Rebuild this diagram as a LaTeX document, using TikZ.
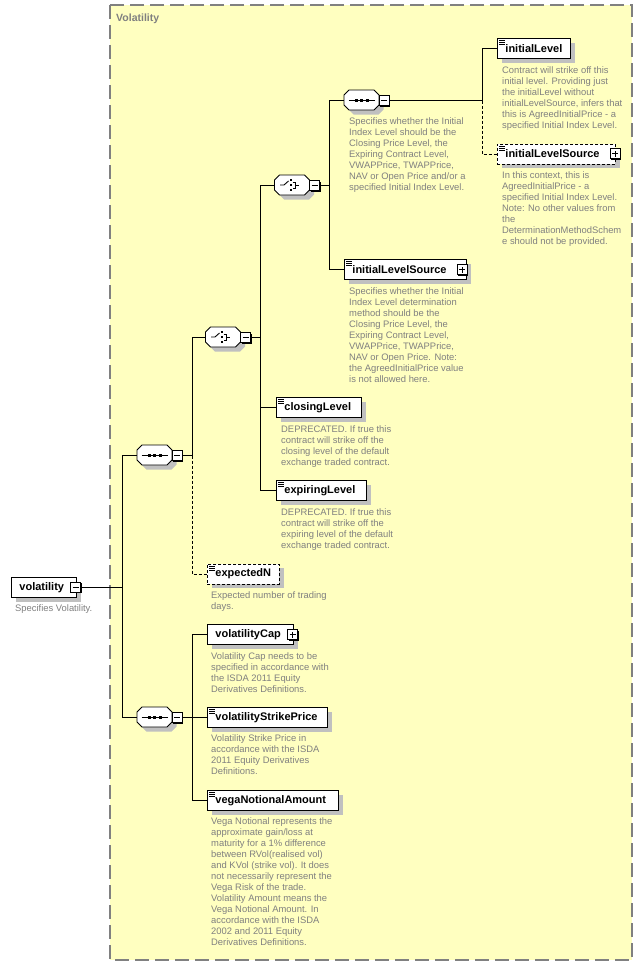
\documentclass[tikz,border=0pt]{standalone}
\usepackage{fontspec}
\setmainfont{Liberation Sans}
\usetikzlibrary{shadows}
\definecolor{bgyellow}{RGB}{255,255,192}
\definecolor{framegray}{RGB}{128,128,128}
\definecolor{descgray}{RGB}{128,128,128}
\definecolor{shadowgray}{RGB}{192,192,192}
\tikzset{
  elem/.style={draw=black, fill=white, line width=0.9pt, anchor=north west, minimum height=20pt,
    inner xsep=0pt, inner ysep=0pt, align=left, font=\fontsize{11}{13}\selectfont\bfseries,
    general shadow={fill=shadowgray, shadow xshift=4.5pt, shadow yshift=-4.5pt}},
  optelem/.style={elem, dash pattern=on 3pt off 2pt},
  desc/.style={anchor=north west, inner sep=0pt, align=left, text=descgray, font=\fontsize{9.4}{11}\selectfont},
  pmbox/.style={draw=black, fill=white, minimum size=10pt, inner sep=0pt, line width=0.8pt,
    general shadow={fill=black, shadow xshift=1pt, shadow yshift=-1pt}},
  comp/.style={minimum width=35pt, minimum height=20pt, inner sep=0pt},
  conn/.style={line width=0.9pt},
  optconn/.style={line width=0.9pt, dash pattern=on 3pt off 2pt},
  hdr/.style={anchor=west, inner sep=0pt, text=framegray, font=\fontsize{10.5}{12}\selectfont\bfseries},
}
\newcommand\octpath{(-17.5,-5) -- (-12.5,-10) -- (12.5,-10) -- (17.5,-5) -- (17.5,5) -- (12.5,10) -- (-12.5,10) -- (-17.5,5) -- cycle}
\newcommand\octshape[2]{%
  \fill[shadowgray, shift={(#1+4.5,#2+4.5)}] \octpath;
  \filldraw[fill=white, draw=black, line width=0.9pt, shift={(#1,#2)}] \octpath;}
\newcommand\seqsym[2]{%
  \begin{scope}[shift={(#1,#2)}]
    \draw[line width=0.9pt] (-13,0) -- (13,0);
    \fill (-7,-1.5) rectangle (-4,1.5);
    \fill (-1.5,-1.5) rectangle (1.5,1.5);
    \fill (4,-1.5) rectangle (7,1.5);
  \end{scope}}
\newcommand\choicesym[2]{%
  \begin{scope}[shift={(#1,#2)}]
    \draw[line width=0.9pt] (-12,0) -- (-8,0) -- (-3.5,-4);
    \fill (-2.5,-6) rectangle (-0.5,-4);
    \fill (-2.5,-1) rectangle (-0.5,1);
    \fill (-2.5,4) rectangle (-0.5,6);
    \draw[line width=0.9pt] (0.5,-3) -- (3,-3) -- (3,3) -- (0.5,3);
    \draw[line width=0.9pt] (3,0) -- (7,0);
  \end{scope}}
\newcommand\docicon[1]{%
  \draw[line width=0.6pt] ([shift={(2,2.5)}]#1.north west) -- ++(5.5,0);
  \draw[line width=0.6pt] ([shift={(2,4.5)}]#1.north west) -- ++(5.5,0);
  \draw[line width=0.6pt] ([shift={(2,6.5)}]#1.north west) -- ++(5.5,0);}
\newcommand\minussign[1]{\draw[line width=0.8pt] ([xshift=-3pt]#1.center) -- ([xshift=3pt]#1.center);}
\newcommand\plussign[1]{\minussign{#1}\draw[line width=0.8pt] ([yshift=-3pt]#1.center) -- ([yshift=3pt]#1.center);}

\begin{document}
\begin{tikzpicture}[x=1pt, y=-1pt]
\useasboundingbox (0,0) rectangle (643,966);
\fill[white] (0,0) rectangle (643,966);
% outer frame
\draw[fill=bgyellow, draw=framegray, line width=1.2pt, dash pattern=on 14pt off 6pt] (110,5) rectangle (632,960);
\node[hdr] (header) at (116,19) {Volatility};

% bus coordinates
\coordinate (bx1) at (122,0);
\coordinate (bx2) at (192,0);
\coordinate (bx3) at (260,0);
\coordinate (bx4) at (329,0);
\coordinate (bx5) at (482,0);

% root
\node[elem, text width=65pt] (root) at (11,577) {\hspace*{8pt}volatility};
\node[pmbox] (rootm) at (75.5,587) {}; \minussign{rootm}
\node[desc] (rootd) at (15,604) {Specifies Volatility.};

% compositors
\octshape{154.5}{455} \seqsym{154.5}{455} \node[comp] (s1) at (154.5,455) {};
\node[pmbox] (s1m) at (177,455.5) {}; \minussign{s1m}

\octshape{223}{337} \choicesym{223}{337} \node[comp] (c1) at (223,337) {};
\node[pmbox] (c1m) at (245.5,337.5) {}; \minussign{c1m}

\octshape{292}{185} \choicesym{292}{185} \node[comp] (c2) at (292,185) {};
\node[pmbox] (c2m) at (314.5,185.5) {}; \minussign{c2m}

\octshape{361.5}{100} \seqsym{361.5}{100} \node[comp] (s2) at (361.5,100) {};
\node[pmbox] (s2m) at (384,100.5) {}; \minussign{s2m}

\octshape{154.5}{717} \seqsym{154.5}{717} \node[comp] (s3) at (154.5,717) {};
\node[pmbox] (s3m) at (177,717.5) {}; \minussign{s3m}

\node[desc] (s2d) at (349,117.5) {Specifies whether the Initial\\Index Level should be the\\Closing Price Level, the\\Expiring Contract Level,\\VWAPPrice, TWAPPrice,\\NAV or Open Price and/or a\\specified Initial Index Level.};

% elements
\node[elem, text width=73pt] (il) at (497,38) {\hspace*{8pt}initialLevel}; \docicon{il}
\node[desc] (ild) at (502,66.5) {Contract will strike off this\\initial level. Providing just\\the initialLevel without\\initialLevelSource, infers that\\this is AgreedInitialPrice - a\\specified Initial Index Level.};

\node[optelem, text width=118pt] (ilsa) at (497,143.5) {\hspace*{8pt}initialLevelSource}; \docicon{ilsa}
\node[pmbox] (ilsap) at (615,153.5) {}; \plussign{ilsap}
\node[desc] (ilsad) at (502,171.5) {In this context, this is\\AgreedInitialPrice - a\\specified Initial Index Level.\\Note: No other values from\\the\\DeterminationMethodSchem\\e should not be provided.};

\node[elem, text width=122pt] (ilsb) at (344,259) {\hspace*{8pt}initialLevelSource}; \docicon{ilsb}
\node[pmbox] (ilsbp) at (462,269.5) {}; \plussign{ilsbp}
\node[desc] (ilsbd) at (349,287.5) {Specifies whether the Initial\\Index Level determination\\method should be the\\Closing Price Level, the\\Expiring Contract Level,\\VWAPPrice, TWAPPrice,\\NAV or Open Price. Note:\\the AgreedInitialPrice value\\is not allowed here.};

\node[elem, text width=85pt] (closL) at (276,397) {\hspace*{8pt}closingLevel}; \docicon{closL}
\node[desc] (closLd) at (281,425.5) {DEPRECATED. If true this\\contract will strike off the\\closing level of the default\\exchange traded contract.};

\node[elem, text width=90pt] (expL) at (276,480) {\hspace*{8pt}expiringLevel}; \docicon{expL}
\node[desc] (expLd) at (281,508.5) {DEPRECATED. If true this\\contract will strike off the\\expiring level of the default\\exchange traded contract.};

\node[optelem, text width=72pt] (expN) at (207,563.5) {\hspace*{8pt}expectedN}; \docicon{expN}
\node[desc] (expNd) at (211,591.5) {Expected number of trading\\days.};

\node[elem, text width=86pt] (vcap) at (207,624) {\hspace*{8pt}volatilityCap};
\node[pmbox] (vcapp) at (292.5,634.5) {}; \plussign{vcapp}
\node[desc] (vcapd) at (211,652.5) {Volatility Cap needs to be\\specified in accordance with\\the ISDA 2011 Equity\\Derivatives Definitions.};

\node[elem, text width=120pt] (vsp) at (207,707) {\hspace*{8pt}volatilityStrikePrice}; \docicon{vsp}
\node[desc] (vspd) at (211,734.5) {Volatility Strike Price in\\accordance with the ISDA\\2011 Equity Derivatives\\Definitions.};

\node[elem, text width=131pt] (vega) at (207,790) {\hspace*{8pt}vegaNotionalAmount}; \docicon{vega}
\node[desc] (vegad) at (211,817.5) {Vega Notional represents the\\approximate gain/loss at\\maturity for a 1\% difference\\between RVol(realised vol)\\and KVol (strike vol). It does\\not necessarily represent the\\Vega Risk of the trade.\\Volatility Amount means the\\Vega Notional Amount. In\\accordance with the ISDA\\2002 and 2011 Equity\\Derivatives Definitions.};

% connectors
\draw[conn] (rootm.east) -- (rootm.east -| bx1);
\draw[conn] (s1.west) -- (s1.west -| bx1) -- (s3.west -| bx1) -- (s3.west);

\draw[conn] (s1m.east) -- (s1m.east -| bx2);
\draw[conn] (c1.west) -- (c1.west -| bx2) -- (s1m.east -| bx2);
\draw[optconn] (s1m.east -| bx2) -- (expN.west -| bx2) -- (expN.west);

\draw[conn] (c1m.east) -- (c1m.east -| bx3);
\draw[conn] (c2.west) -- (c2.west -| bx3) -- (expL.west -| bx3) -- (expL.west);
\draw[conn] (closL.west) -- (closL.west -| bx3);

\draw[conn] (c2m.east) -- (c2m.east -| bx4);
\draw[conn] (s2.west) -- (s2.west -| bx4) -- (ilsb.west -| bx4) -- (ilsb.west);

\draw[conn] (s2m.east) -- (s2m.east -| bx5);
\draw[conn] (il.west) -- (il.west -| bx5) -- (s2m.east -| bx5);
\draw[optconn] (s2m.east -| bx5) -- (ilsa.west -| bx5) -- (ilsa.west);

\draw[conn] (s3m.east) -- (vsp.west);
\draw[conn] (vcap.west) -- (vcap.west -| bx2) -- (vega.west -| bx2) -- (vega.west);
\end{tikzpicture}
\end{document}
